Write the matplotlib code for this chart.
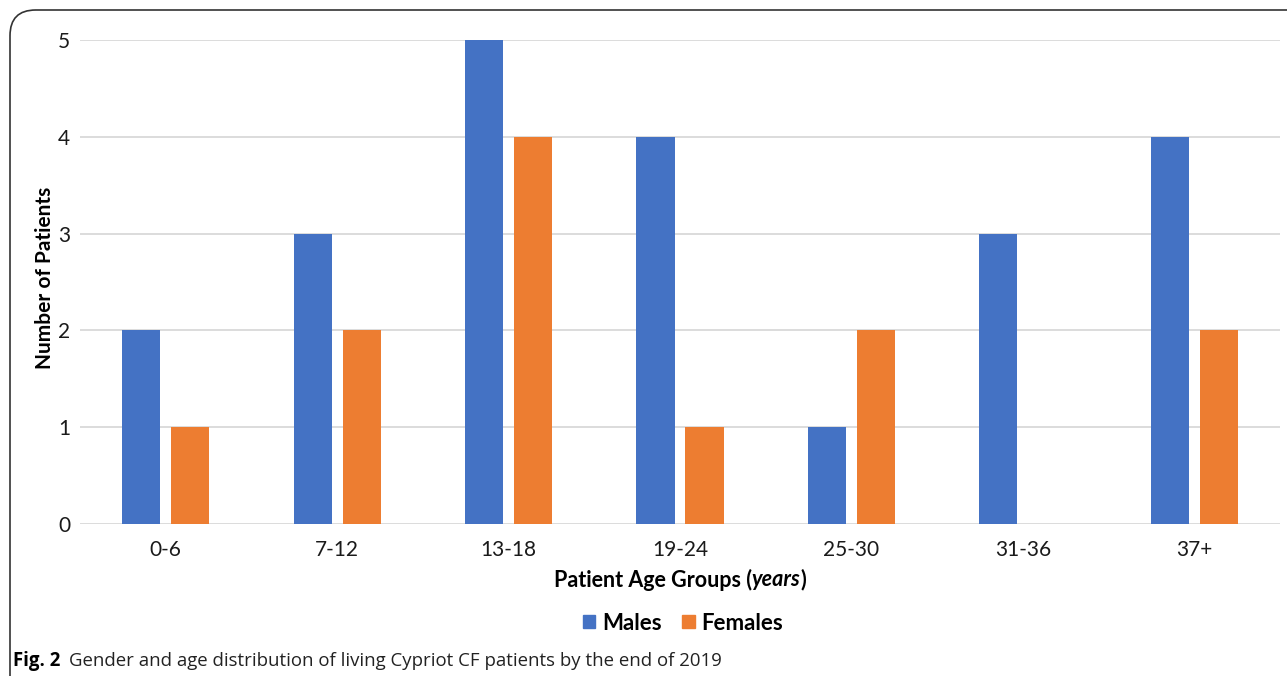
import matplotlib
matplotlib.use("Agg")
import matplotlib.pyplot as plt
import numpy as np
from matplotlib.patches import FancyBboxPatch, Patch

categories = ["0-6", "7-12", "13-18", "19-24", "25-30", "31-36", "37+"]
males = [2, 3, 5, 4, 1, 3, 4]
females = [1, 2, 4, 1, 2, 0, 2]
yticks = [0, 1, 2, 3, 4, 5]

blue = "#4472C4"
orange = "#ED7D31"
chart_font = "Lato"
cap_font = "Open Sans"

W, H = 1287, 676
fig = plt.figure(figsize=(W / 100, H / 100), dpi=100)

ax = fig.add_axes([80 / W, 1 - 524.3 / H, 1200 / W, 484.5 / H])
x = np.arange(len(categories))
bw = 0.222
off = 0.143
ax.bar(x - off, males, width=bw, color=blue, zorder=3, label="Males")
ax.bar(x + off, females, width=bw, color=orange, zorder=3, label="Females")

ax.set_xlim(-0.5, len(categories) - 0.5)
ax.set_ylim(0, 5)
ax.set_yticks(yticks)
ax.set_yticklabels([str(v) for v in yticks], fontsize=15, fontfamily=chart_font, color="#1a1a1a")
ax.set_xticks(x)
ax.set_xticklabels(categories, fontsize=15, fontfamily=chart_font, color="#1a1a1a")
ax.tick_params(axis="both", length=0)
ax.tick_params(axis="y", pad=7)
ax.tick_params(axis="x", pad=11)
ax.grid(axis="y", color="#D9D9D9", linewidth=1.3, zorder=0)
for s in ax.spines.values():
    s.set_visible(False)

fig.text(45 / W, 1 - 277.5 / H, "Number of Patients", fontsize=15, fontweight="bold",
         fontfamily=chart_font, color="black", rotation=90, ha="center", va="center")

# x-axis label with italic 'years'
ylab = 1 - 580 / H
t1 = fig.text(0, ylab, "Patient Age Groups (", fontsize=15.5, fontweight="bold",
              fontfamily=chart_font, ha="left", va="center")
t2 = fig.text(0, ylab, "years", fontsize=15.5, fontweight="bold", style="italic",
              fontfamily=chart_font, ha="left", va="center")
t3 = fig.text(0, ylab, ")", fontsize=15.5, fontweight="bold",
              fontfamily=chart_font, ha="left", va="center")
fig.canvas.draw()
r = fig.canvas.get_renderer()
w1 = t1.get_window_extent(r).width
w2 = t2.get_window_extent(r).width
w3 = t3.get_window_extent(r).width
total = w1 + w2 + w3
start = 680 - total / 2
t1.set_x(start / W)
t2.set_x((start + w1) / W)
t3.set_x((start + w1 + w2) / W)

handles = [Patch(color=blue, label="Males"), Patch(color=orange, label="Females")]
fig.legend(handles=handles, loc="center", bbox_to_anchor=(683 / W, 1 - 623 / H),
           ncol=2, frameon=False, handlelength=0.55, handleheight=0.55,
           handletextpad=0.3, columnspacing=0.95,
           prop={"family": chart_font, "weight": "bold", "size": 16})

# caption
c1 = fig.text(13 / W, 1 - 661 / H, "Fig. 2", fontsize=13.4, fontweight="bold",
              fontfamily=cap_font, ha="left", va="center")
fig.canvas.draw()
wc = c1.get_window_extent(r).width
fig.text((13 + wc + 9) / W, 1 - 661 / H,
         "Gender and age distribution of living Cypriot CF patients by the end of 2019",
         fontsize=13.4, fontfamily=cap_font, ha="left", va="center", color="#222222")

# rounded frame (top-left corner visible)
frame = FancyBboxPatch((10 / W, -0.2), 1.3, 1 - 10 / H + 0.2,
                       boxstyle="round,pad=0,rounding_size=0.02",
                       transform=fig.transFigure, fill=False,
                       edgecolor="#333333", linewidth=1.2, mutation_aspect=W / H)
fig.patches.append(frame)

fig.savefig("out.png", dpi=100)
